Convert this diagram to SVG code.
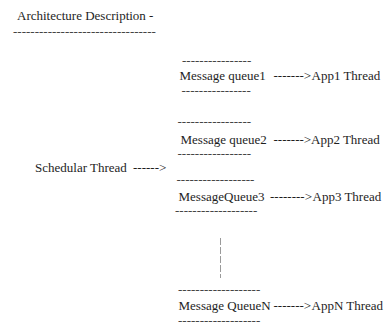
<svg xmlns="http://www.w3.org/2000/svg" width="385" height="327" viewBox="0 0 385 327">
  <style>
    text { font-family: "Liberation Serif", "Times New Roman", serif; font-size: 13px; fill: #1e1e1e; }
    .rule { fill: #444; }
    .ellipsis { stroke: #9a9a9a; stroke-width: 1; stroke-dasharray: 7 2; fill: none; }
  </style>
  <rect width="385" height="327" fill="#ffffff"/>

  <g id="title">
    <text x="17" y="20">Architecture Description -</text>
    <text class="rule" x="13" y="36">---------------------------------</text>
  </g>

  <g id="scheduler">
    <text x="35" y="172">Schedular Thread</text>
  </g>

  <g id="queue1">
    <text class="rule" x="182" y="65">----------------</text>
    <text x="179.5" y="80">Message queue1</text>
    <text class="rule" x="181.5" y="95">----------------</text>
  </g>
  <g id="app1">
    <text x="311.5" y="80">App1 Thread</text>
  </g>

  <g id="queue2">
    <text class="rule" x="177.5" y="126">-----------------</text>
    <text x="180.5" y="144">Message queue2</text>
    <text class="rule" x="177.5" y="158">-----------------</text>
  </g>
  <g id="app2">
    <text x="311" y="144">App2 Thread</text>
  </g>

  <g id="queue3">
    <text class="rule" x="176.5" y="184">------------------</text>
    <text x="178.5" y="201">MessageQueue3</text>
    <text class="rule" x="175" y="215">-------------------</text>
  </g>
  <g id="app3">
    <text x="312.5" y="201">App3 Thread</text>
  </g>

  <g id="queueN">
    <text class="rule" x="178" y="294">-------------------</text>
    <text x="178.5" y="310">Message QueueN</text>
    <text class="rule" x="178" y="325">-------------------</text>
  </g>
  <g id="appN">
    <text x="311.5" y="310">AppN Thread</text>
  </g>

  <!-- text-style arrows and the elided queues between 3 and N -->
  <g id="connectors">
    <text x="133" y="172">------&gt;</text>
    <text x="273.5" y="80">-------&gt;</text>
    <text x="273.5" y="144">-------&gt;</text>
    <text x="270" y="201">--------&gt;</text>
    <text x="273.5" y="310">-------&gt;</text>
    <line class="ellipsis" x1="220.5" y1="238" x2="220.5" y2="278"/>
  </g>
</svg>
